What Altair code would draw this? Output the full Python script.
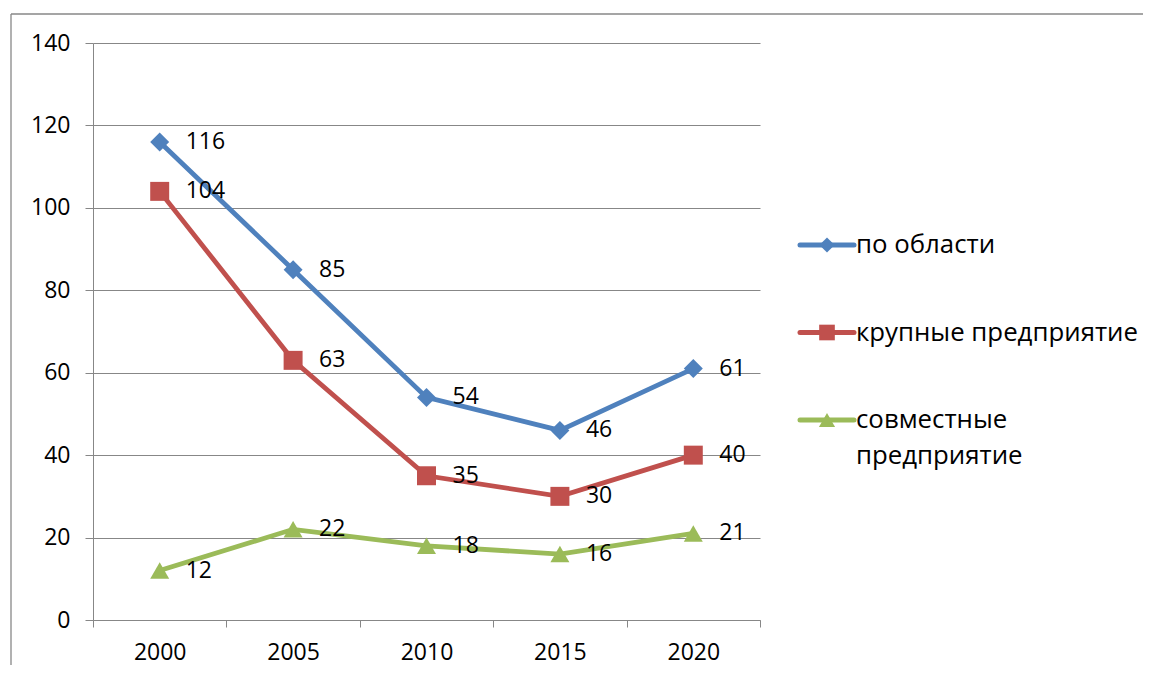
import altair as alt
import pandas as pd

# ---- data ----
years = ["2000", "2005", "2010", "2015", "2020"]
series_labels = ["по области", "крупные предприятие", "совместные\nпредприятие"]
region = [116, 85, 54, 46, 61]
large = [104, 63, 35, 30, 40]
joint = [12, 22, 18, 16, 21]
y_ticks = [0, 20, 40, 60, 80, 100, 120, 140]

colors = ["#4F81BD", "#C0504D", "#9BBB59"]
shapes = ["diamond", "square", "triangle-up"]
marker_sizes = [360, 360, 480]
legend_marker_sizes = [230, 260, 330]

GRAY = "#878787"
FONT = "Open Sans"
FS = 23
LFS = 25.8
W, H = 667, 577

keys = [s.replace("\n", " ") for s in series_labels]

rows = []
for k, vals in zip(keys, [region, large, joint]):
    for yr, v in zip(years, vals):
        rows.append({"series": k, "year": yr, "value": v})
df = pd.DataFrame(rows)

color_enc = alt.Color("series:N", scale=alt.Scale(domain=keys, range=colors), legend=None)
shape_enc = alt.Shape("series:N", scale=alt.Scale(domain=keys, range=shapes), legend=None)

x_enc = alt.X(
    "year:O",
    scale=alt.Scale(type="band", domain=years, paddingInner=0, paddingOuter=0),
    axis=alt.Axis(title=None, labelAngle=0, tickBand="extent", grid=False, tickSize=7,
                  labelPadding=14, labelFontSize=FS, labelFont=FONT, labelColor="black",
                  domainColor=GRAY, tickColor=GRAY, domainWidth=1, tickWidth=1),
)
y_enc = alt.Y(
    "value:Q",
    scale=alt.Scale(domain=[0, 140], nice=False),
    axis=alt.Axis(title=None, values=y_ticks, tickSize=8, grid=True, gridColor=GRAY,
                  gridWidth=1, labelPadding=15, labelFontSize=FS, labelFont=FONT,
                  labelColor="black", domainColor=GRAY, tickColor=GRAY, domainWidth=1,
                  tickWidth=1),
)

base = alt.Chart(df)
lines = base.mark_line(strokeWidth=4.8).encode(x=x_enc, y=y_enc, color=color_enc)
points = base.mark_point(filled=True, opacity=1).encode(
    x=x_enc, y=y_enc, color=color_enc, shape=shape_enc,
    size=alt.Size("series:N", scale=alt.Scale(domain=keys, range=marker_sizes), legend=None))
labels = base.mark_text(align="left", baseline="middle", dx=26, fontSize=FS,
                        font=FONT, color="black").encode(x=x_enc, y=y_enc, text="value:Q")
main = alt.layer(lines, points, labels)

# ---- legend (drawn to the right of the plot) ----
ROW0, ROW_H, LINE_H = 202.0, 87.5, 36.0
leg_scale = alt.Scale(domain=[-ROW0 / ROW_H, (H - ROW0) / ROW_H], reverse=True, nice=False, zero=False)
leg_df = pd.DataFrame({"series": keys, "row": list(range(len(keys)))})
txt_rows = []
for i, lab in enumerate(series_labels):
    for j, line in enumerate(lab.split("\n")):
        txt_rows.append({"line": line, "pos": i + j * LINE_H / ROW_H})
txt_df = pd.DataFrame(txt_rows)

LX0, LX1, LXM, LTX = 707, 761, 734, 763
leg_y = alt.Y("row:Q", scale=leg_scale, axis=None)
leg_rule = alt.Chart(leg_df).mark_rule(strokeWidth=5, strokeCap="round").encode(
    x=alt.value(LX0), x2=alt.value(LX1), y=leg_y, color=color_enc)
leg_pt = alt.Chart(leg_df).mark_point(filled=True, opacity=1).encode(
    x=alt.value(LXM), y=leg_y, color=color_enc, shape=shape_enc,
    size=alt.Size("series:N", scale=alt.Scale(domain=keys, range=legend_marker_sizes), legend=None))
leg_txt = alt.Chart(txt_df).mark_text(align="left", baseline="middle", fontSize=LFS,
                                      font=FONT, color="black").encode(
    x=alt.value(LTX), y=alt.Y("pos:Q", scale=leg_scale, axis=None), text="line:N")
legend = alt.layer(leg_rule, leg_pt, leg_txt)

# ---- outer frame of the chart ----
one = pd.DataFrame({"a": [0]})
frame_l = alt.Chart(one).mark_rule(color=GRAY, strokeWidth=1.3).encode(
    x=alt.value(-82), y=alt.value(-29), y2=alt.value(700))
frame_t = alt.Chart(one).mark_rule(color=GRAY, strokeWidth=1.3).encode(
    x=alt.value(-82), x2=alt.value(1200), y=alt.value(-29))
frame = alt.layer(frame_l, frame_t)

chart = alt.layer(main, legend, frame).resolve_scale(
    y="independent", size="independent").properties(
    width=W, height=H,
    autosize=alt.AutoSizeParams(type="none"),
    padding={"left": 85, "top": 35, "right": 383, "bottom": 45},
    background="white",
).configure_view(stroke=None)

chart.save("out.html", embed_options={"renderer": "svg", "actions": False})
